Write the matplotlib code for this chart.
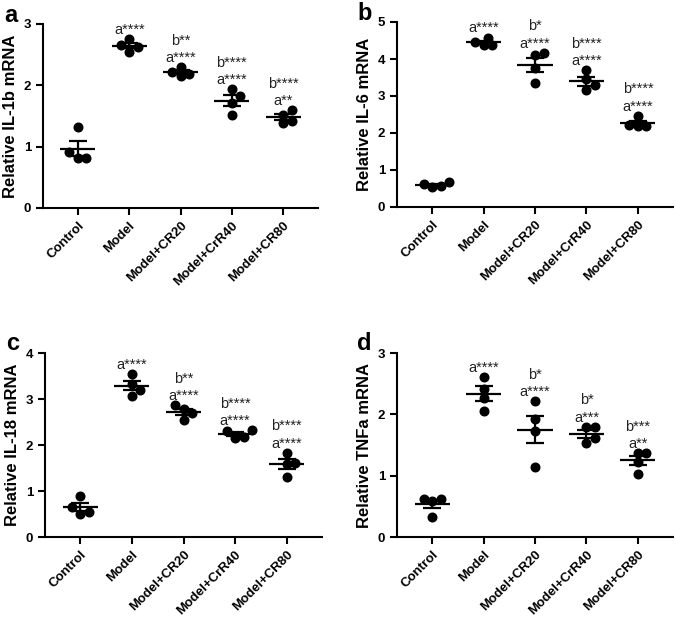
import numpy as np
import matplotlib
matplotlib.use("Agg")
import matplotlib.pyplot as plt

plt.rcParams['font.family'] = ['Liberation Sans', 'DejaVu Sans']

groups = ['Control', 'Model', 'Model+CR20', 'Model+CrR40', 'Model+CR80']

# relative mRNA, 4 samples per group
il1b = [[1.32, 0.82, 0.82, 0.91],
        [2.55, 2.65, 2.62, 2.75],
        [2.30, 2.15, 2.22, 2.19],
        [1.83, 1.94, 1.72, 1.52],
        [1.52, 1.38, 1.59, 1.42]]
il6 = [[0.53, 0.68, 0.57, 0.62],
       [4.37, 4.47, 4.58, 4.38],
       [4.11, 4.17, 3.75, 3.34],
       [3.70, 3.15, 3.30, 3.45],
       [2.22, 2.47, 2.19, 2.20]]
il18 = [[0.90, 0.65, 0.50, 0.55],
        [3.54, 3.07, 3.20, 3.33],
        [2.55, 2.78, 2.69, 2.87],
        [2.32, 2.15, 2.30, 2.18],
        [1.83, 1.30, 1.58, 1.60]]
tnfa = [[0.62, 0.62, 0.59, 0.33],
        [2.61, 2.42, 2.26, 2.05],
        [2.21, 1.93, 1.73, 1.14],
        [1.79, 1.80, 1.53, 1.61],
        [1.37, 1.37, 1.22, 1.03]]

# significance labels (b = vs Model, a = vs Control)
sig_il1b = ['', 'a****', 'b**\na****', 'b****\na****', 'b****\na**']
sig_il6 = ['', 'a****', 'b*\na****', 'b****\na****', 'b****\na****']
sig_il18 = ['', 'a****', 'b**\na****', 'b****\na****', 'b****\na****']
sig_tnfa = ['', 'a****', 'b*\na****', 'b*\na***', 'b***\na**']

panels = [
    ('a', 'Relative IL-1b mRNA', il1b, sig_il1b, 3, [43, 24, 318, 208]),
    ('b', 'Relative IL-6 mRNA', il6, sig_il6, 5, [397, 22, 673, 207]),
    ('c', 'Relative IL-18 mRNA', il18, sig_il18, 4, [45, 353, 322, 537]),
    ('d', 'Relative TNFa mRNA', tnfa, sig_tnfa, 3, [397, 353, 673, 537]),
]

W, H = 675, 621
fig = plt.figure(figsize=(W / 100, H / 100), dpi=100)


def swarm(vals, xpx, ypx, diam):
    # simple beeswarm: place points so dots don't overlap
    order = np.argsort(vals)
    placed = []
    offs = np.zeros(len(vals))
    cands = [0]
    for k in range(1, 8):
        cands += [k * 0.5, -k * 0.5]
    for i in order:
        y = vals[i] * ypx
        for c in sorted(cands, key=abs):
            x = c * diam
            if all((x - px) ** 2 + (y - py) ** 2 >= (diam * 0.98) ** 2 for px, py in placed):
                break
        placed.append((x, y))
        offs[i] = x / xpx
    return offs


for letter, ylabel, data, sigs, ymax, (l, t, r, b) in panels:
    ax = fig.add_axes([l / W, 1 - b / H, (r - l) / W, (b - t) / H])
    ax.set_xlim(-0.68, 4.68)
    ax.set_ylim(0, ymax)
    xpx = (r - l) / 5.36
    ypx = (b - t) / ymax
    for i, vals in enumerate(data):
        vals = np.array(vals)
        offs = swarm(vals, xpx, ypx, 8.5)
        ax.plot(i + offs, vals, 'o', color='black', ms=6.2, zorder=3, clip_on=False)
        m = vals.mean()
        sem = vals.std(ddof=1) / np.sqrt(len(vals))
        ax.hlines(m, i - 0.34, i + 0.34, color='black', lw=1.6, zorder=4)
        ax.errorbar(i, m, yerr=sem, fmt='none', ecolor='black', elinewidth=1.6,
                    capsize=6.5, capthick=1.6, zorder=4)
        if sigs[i]:
            ax.annotate(sigs[i], (i, vals.max()), xytext=(0, 1.5),
                        textcoords='offset points', ha='center', va='bottom',
                        fontsize=10.5, color='#222222', linespacing=1.3)
    for s in ['top', 'right']:
        ax.spines[s].set_visible(False)
    for s in ['left', 'bottom']:
        ax.spines[s].set_linewidth(1.5)
    ax.set_yticks(range(ymax + 1))
    ax.set_xticks(range(5))
    ax.set_xticklabels(groups, rotation=45, ha='right', rotation_mode='anchor',
                       fontsize=9.5, fontweight='bold')
    ax.tick_params(axis='both', width=1.5, length=5, direction='out')
    ax.tick_params(axis='y', labelsize=9.5)
    for lab in ax.get_yticklabels():
        lab.set_fontweight('bold')
    ax.set_ylabel(ylabel, fontsize=12, fontweight='bold', labelpad=4)
    ax.text(l / W - 0.048, 1 - (t - 9) / H, letter, transform=fig.transFigure,
            fontsize=17, fontweight='bold', ha='center', va='center')

fig.savefig('out.png', dpi=100)
